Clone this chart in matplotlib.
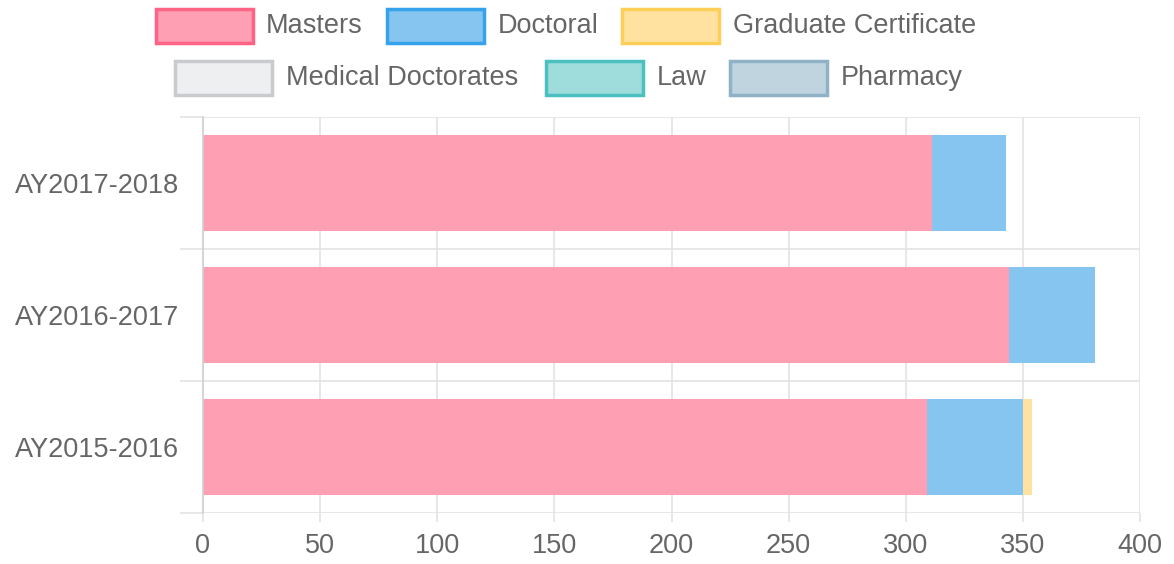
import numpy as np
import matplotlib.pyplot as plt
from matplotlib.patches import Rectangle

years = ['AY2015-2016', 'AY2016-2017', 'AY2017-2018']
masters = [309, 344, 311]
doctoral = [41, 37, 32]
grad_cert = [4, 0, 0]
medical = [0, 0, 0]
law = [0, 0, 0]
pharmacy = [0, 0, 0]

series = [
    ('Masters', masters, '#ff9fb3', '#ff6384'),
    ('Doctoral', doctoral, '#86c5f0', '#36a2eb'),
    ('Graduate Certificate', grad_cert, '#ffe2a0', '#ffce56'),
    ('Medical Doctorates', medical, '#eeeff1', '#c9cbcf'),
    ('Law', law, '#9fdcdc', '#4bc0c0'),
    ('Pharmacy', pharmacy, '#c0d4e0', '#8fb2c6'),
]

W, H = 1174, 564
fig = plt.figure(figsize=(W / 100, H / 100), dpi=100)
ax = fig.add_axes([203 / W, (H - 513) / H, (1140 - 203) / W, (513 - 117) / H])

grid_c = '#e3e3e3'
txt_c = '#666666'
fs = 19.5
y = np.arange(len(years))
left = np.zeros(len(years))
for name, vals, fc, ec in series:
    ax.barh(y, vals, height=0.72, left=left, color=fc, edgecolor='none', zorder=2)
    left += np.array(vals)

ax.set_xlim(0, 400)
ax.set_ylim(-0.5, 2.5)
ax.set_xticks(np.arange(0, 401, 50))
ax.set_yticks(y)
ax.set_yticklabels(years)
ax.set_yticks([-0.5, 0.5, 1.5, 2.5], minor=True)
ax.grid(axis='x', which='major', color=grid_c, lw=1.2, zorder=0)
ax.grid(axis='y', which='minor', color=grid_c, lw=1.2, zorder=0)
ax.tick_params(axis='y', which='major', length=0, pad=17, labelsize=fs, labelcolor=txt_c)
ax.tick_params(axis='y', which='minor', length=16.5, color=grid_c, width=1.2)
ax.tick_params(axis='x', which='major', length=6.5, color=grid_c, width=1.2, pad=8,
               labelsize=fs, labelcolor=txt_c)
for s in ax.spines.values():
    s.set_visible(False)
ax.spines['left'].set_visible(True)
ax.spines['left'].set_color('#d0d0d0')
ax.spines['left'].set_linewidth(1.2)
for lab in ax.get_xticklabels() + ax.get_yticklabels():
    lab.set_family('Liberation Sans')

# legend, two centred rows like the original
rows = [
    [(0, 156, 266), (1, 387, 498), (2, 622, 733)],
    [(3, 175, 286), (4, 546, 657), (5, 730, 841)],
]
row_y = [(9, 43), (61, 95)]
for r, items in enumerate(rows):
    y0, y1 = row_y[r]
    for idx, bx, tx in items:
        name, _, fc, ec = series[idx]
        fig.patches.append(Rectangle((bx / W, (H - y1) / H), 97 / W, (y1 - y0) / H,
                                     transform=fig.transFigure, facecolor=fc,
                                     edgecolor=ec, lw=2.5))
        fig.text(tx / W, (H - (y0 + y1) / 2) / H, name, ha='left', va='center',
                 fontsize=fs, color=txt_c, family='Liberation Sans')

fig.savefig('out.png', dpi=100)
